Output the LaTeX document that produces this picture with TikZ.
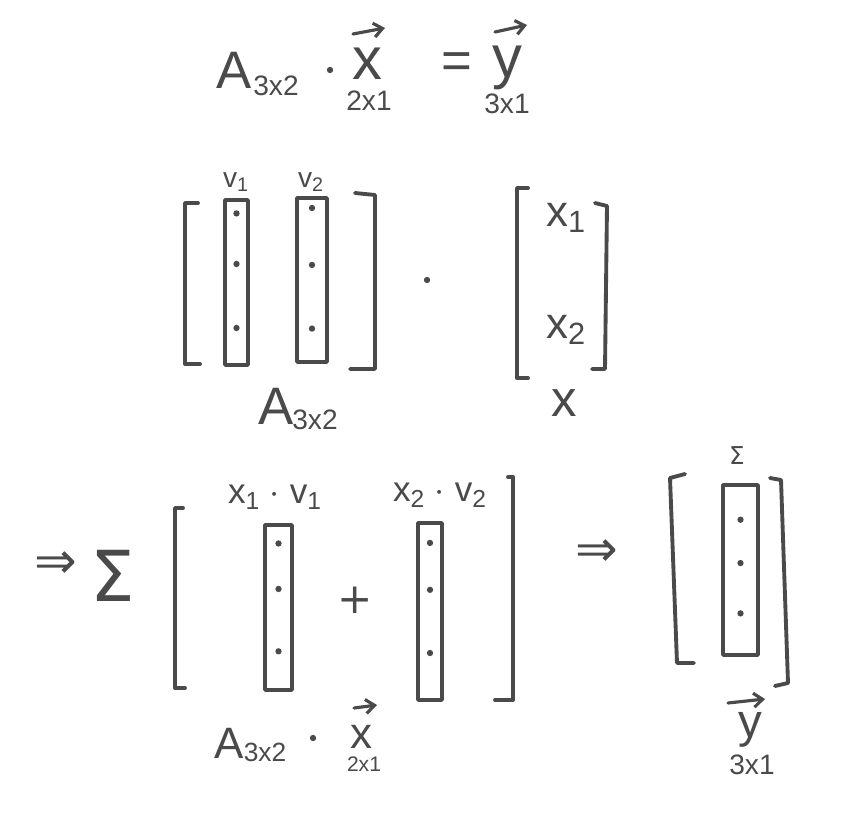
\documentclass[tikz,border=0pt]{standalone}
\usepackage{fontspec}
\setmainfont{Liberation Sans}
\newfontfamily\symfont{DejaVu Sans}
\usepackage{xcolor}
\usepackage{tikz}
\usetikzlibrary{arrows.meta,calc}
\definecolor{ink}{HTML}{4A4A4A}

\begin{document}
\begin{tikzpicture}[x=0.02cm, y=-0.02cm, line cap=round, line join=round, color=ink, text=ink]
    \tikzset{
      hugetxt/.style={inner sep=0pt, font=\fontsize{30}{34}\selectfont},
      vectxt/.style={inner sep=0pt, font=\fontsize{34}{38}\selectfont},
      subtxt/.style={inner sep=0pt, font=\fontsize{16}{18}\selectfont},
      labtxt/.style={inner sep=0pt, font=\fontsize{20}{22}\selectfont},
      symtxt/.style={inner sep=0pt, font=\symfont\fontsize{29}{32}\selectfont},
      brak/.style={line width=2.2pt},
      colbox/.style={draw, line width=2pt, inner sep=0pt},
      vec/.style={-{Straight Barb[length=5pt, width=8pt]}, line width=1.8pt},
      dotmark/.style={circle, fill=ink, inner sep=0pt, minimum size=3.6pt}
    }
    \useasboundingbox (0,0) rectangle (858,831);

    \node[hugetxt] (atop) at (234,70) {A};
    \node[subtxt] (atopsub) at (276,86) {3x2};
    \node[dotmark] (d1) at (330,70) {};
    \node[vectxt] (xtop) at (367,64) {x};
    \draw[vec] ($(xtop)+(-14,-30)$) -- ($(xtop)+(18,-36)$);
    \node[subtxt] (xtopsub) at (369,101) {2x1};
    \node[hugetxt] (eq) at (457,66) {=};
    \node[vectxt] (ytop) at (507,68) {y};
    \draw[vec] ($(ytop)+(-12,-36)$) -- ($(ytop)+(20,-43)$);
    \node[subtxt] (ytopsub) at (507,104) {3x1};

    \draw[brak] (198,203) -- (185,203) -- (185,364) -- (200,364);
    \draw[brak] (355,193) -- (375,195) -- (375,369) -- (350,369);
    \node[colbox, minimum width=0.46cm, minimum height=3.3cm] (v1box) at (236.5,282.5) {};
    \node[colbox, minimum width=0.6cm, minimum height=3.28cm] (v2box) at (312,280) {};
    \foreach \t in {0.09,0.39,0.77} {
      \node[dotmark] at ($(v1box.north)!\t!(v1box.south)$) {};
    }
    \foreach \t in {0.07,0.41,0.79} {
      \node[dotmark] at ($(v2box.north)!\t!(v2box.south)$) {};
    }
    \node[labtxt, font=\fontsize{16}{18}\selectfont] (v1lab) at (236,182) {v\textsubscript{1}};
    \node[labtxt, font=\fontsize{16}{18}\selectfont] (v2lab) at (311,182) {v\textsubscript{2}};
    \node[hugetxt] (amid) at (276,406) {A};
    \node[subtxt] (amidsub) at (315,420) {3x2};
    \node[dotmark] (d2) at (427,280) {};

    \draw[brak] (528,188) -- (517,188) -- (517,378) -- (528,378);
    \draw[brak] (595,203) -- (607,206) -- (605,369) -- (592,369);
    \node[labtxt, font=\fontsize{25}{28}\selectfont] (x1lab) at (566,218) {x\textsubscript{1}};
    \node[labtxt, font=\fontsize{25}{28}\selectfont] (x2lab) at (566,330) {x\textsubscript{2}};
    \node[labtxt, font=\fontsize{29}{32}\selectfont] (xlab) at (564,403) {x};

    \node[symtxt] (imp1) at (56,565) {⇒};
    \node[symtxt, font=\symfont\fontsize{40}{44}\selectfont] (sig) at (113,576) {Σ};
    \draw[brak] (183,508) -- (175,508) -- (175,688) -- (185,688);
    \draw[brak] (508,477) -- (513,477) -- (513,700) -- (495,700);
    \node[colbox, minimum width=0.54cm, minimum height=3.3cm] (c1box) at (278.5,607.5) {};
    \node[colbox, minimum width=0.48cm, minimum height=3.54cm] (c2box) at (430,611.5) {};
    \foreach \t in {0.12,0.39,0.76} {
      \node[dotmark] at ($(c1box.north)!\t!(c1box.south)$) {};
    }
    \foreach \t in {0.12,0.38,0.73} {
      \node[dotmark] at ($(c2box.north)!\t!(c2box.south)$) {};
    }
    \node[labtxt] (c1lab) at (275,497) {x\textsubscript{1} $\cdot$ v\textsubscript{1}};
    \node[labtxt] (c2lab) at (440,495) {x\textsubscript{2} $\cdot$ v\textsubscript{2}};
    \node[symtxt, font=\symfont\fontsize{24}{27}\selectfont] (plus) at (355,600) {+};

    \node[hugetxt, font=\fontsize{25}{28}\selectfont] (abot) at (229,743) {A};
    \node[subtxt, font=\fontsize{15}{17}\selectfont] (abotsub) at (265,752) {3x2};
    \node[dotmark] (d3) at (313,738) {};
    \node[vectxt, font=\fontsize{25}{28}\selectfont] (xbot) at (361,737) {x};
    \draw[vec] ($(xbot)+(-7,-29)$) -- ($(xbot)+(16,-32)$);
    \node[subtxt, font=\fontsize{12}{14}\selectfont] (xbotsub) at (364,764) {2x1};

    \node[symtxt] (imp2) at (597,553) {⇒};
    \draw[brak] (685,474) -- (670,478) -- (677,663) -- (694,663);
    \draw[brak] (770,478) -- (781,480) -- (788,683) -- (775,686);
    \node[colbox, minimum width=0.7cm, minimum height=3.4cm] (ybox) at (740.5,570) {};
    \foreach \t in {0.21,0.46,0.75} {
      \node[dotmark] at ($(ybox.north)!\t!(ybox.south)$) {};
    }
    \node[symtxt, font=\symfont\fontsize{14}{16}\selectfont] (sigsmall) at (737,456) {Σ};
    \node[vectxt, font=\fontsize{27}{30}\selectfont] (ybot) at (750,730) {y};
    \draw[vec] ($(ybot)+(-22,-27)$) -- ($(ybot)+(15,-31)$);
    \node[subtxt] (ybotsub) at (752,765) {3x1};
  \end{tikzpicture}
\end{document}
